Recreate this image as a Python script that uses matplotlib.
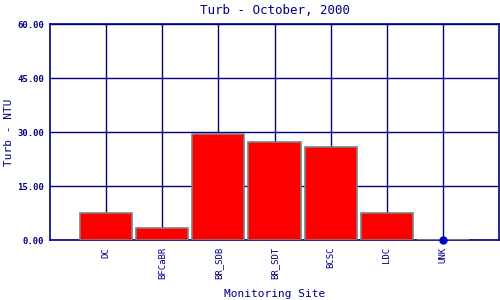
import matplotlib
matplotlib.use("Agg")
import matplotlib.pyplot as plt

sites = ["DC", "BFCaBR", "BR_SDB", "BR_SDT", "BCSC", "LDC", "UNK"]
turb = [7.5, 3.3, 29.4, 27.2, 25.8, 7.5, 0.0]
y_ticks = [0, 15, 30, 45, 60]

NAVY = "#000080"
plt.rcParams["font.family"] = "DejaVu Sans Mono"

fig = plt.figure(figsize=(5, 3), dpi=100)
ax = fig.add_axes([0.1, 0.2, 0.898, 0.72])

x = list(range(1, len(sites) + 1))
ax.bar(x, turb, width=0.93, color="red", edgecolor="gray", linewidth=1.2, zorder=3)
# zero values drawn as a dot
for xi, v in zip(x, turb):
    if v == 0:
        ax.plot(xi, v, "o", color="#0000cc", markersize=5, zorder=4, clip_on=False)

ax.set_xlim(0, 8)
ax.set_ylim(0, 60)
ax.set_xticks(x)
ax.set_xticklabels(sites, rotation=90, fontsize=6.5, color=NAVY)
ax.set_yticks(y_ticks)
ax.set_yticklabels([f"{t:.2f}" for t in y_ticks], fontsize=6.5, color=NAVY, fontweight="bold")
ax.tick_params(axis="x", length=0, pad=5)
ax.tick_params(axis="y", length=0, pad=4)
ax.grid(True, color=NAVY, linewidth=1, zorder=0)
for s in ax.spines.values():
    s.set_color(NAVY)
    s.set_linewidth(1.2)

ax.set_title("Turb - October, 2000", fontsize=9, color=NAVY, pad=7)
fig.text(0.018, 0.56, "Turb - NTU", rotation=90, fontsize=8, color=NAVY,
         ha="center", va="center")
fig.text(0.549, 0.02, "Monitoring Site", fontsize=8, color=NAVY,
         ha="center", va="center")

fig.savefig("out.png", dpi=100)
